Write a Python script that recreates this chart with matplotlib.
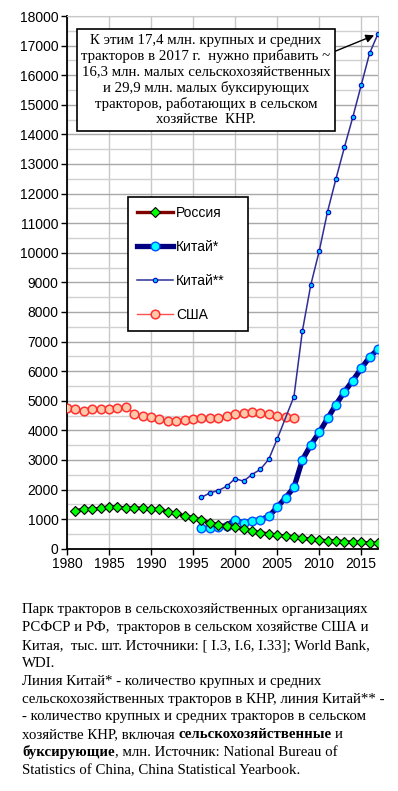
import matplotlib
matplotlib.use('Agg')
import matplotlib.pyplot as plt
from matplotlib.ticker import MultipleLocator
from matplotlib.lines import Line2D

SANS = 'Liberation Sans'
SERIF = 'Liberation Serif'

# --- data (thousand units) ---
RUS_YEARS = list(range(1981, 2018))
RUS = [1290, 1330, 1330, 1370, 1410, 1410, 1370, 1380, 1370, 1340, 1330, 1250, 1190, 1110,
       1050, 970, 880, 810, 775, 725, 675, 600, 545, 500, 450, 430, 405, 360, 315, 285, 275,
       270, 235, 225, 215, 190, 185]

USA_YEARS = list(range(1980, 2008))
USA = [4750, 4710, 4660, 4710, 4710, 4730, 4770, 4800, 4560, 4480, 4450, 4370, 4310, 4320,
       4360, 4370, 4400, 4400, 4430, 4490, 4550, 4580, 4630, 4580, 4540, 4500, 4450, 4430]

CN1_YEARS = list(range(1996, 2018))
CN1 = [690, 690, 720, 780, 975, 860, 940, 980, 1090, 1400, 1720, 2070, 3000, 3500, 3930,
       4400, 4870, 5300, 5680, 6090, 6470, 6740]

CN2_YEARS = list(range(1996, 2006)) + list(range(2007, 2018))
CN2 = [1735, 1885, 1965, 2110, 2370, 2280, 2505, 2680, 3020, 3700, 5140, 7350, 8910, 10050,
       11390, 12500, 13560, 14580, 15660, 16740, 17400]

LABELS = ['Россия', 'Китай*', 'Китай**', 'США']

NOTE = ('К этим 17,4 млн. крупных и средних\n'
        'тракторов в 2017 г.  нужно прибавить ~\n'
        '16,3 млн. малых сельскохозяйственных\n'
        'и 29,9 млн. малых буксирующих\n'
        'тракторов, работающих в сельском\n'
        'хозяйстве  КНР.')

# caption lines, each a list of (text, bold)
CAPTION = [
    [('Парк тракторов в сельскохозяйственных организациях', False)],
    [('РСФСР и РФ,  тракторов в сельском хозяйстве США и', False)],
    [('Китая,  тыс. шт. Источники: [ I.3, I.6, I.33]; World Bank,', False)],
    [('WDI.', False)],
    [('Линия Китай* - количество крупных и средних', False)],
    [('сельскохозяйственных тракторов в КНР, линия Китай** -', False)],
    [('- количество крупных и средних тракторов в сельском', False)],
    [('хозяйстве КНР, включая', False), ('сельскохозяйственные', True), ('и', False)],
    [('буксирующие', True), (', млн. Источник: National Bureau of', False)],
    [('Statistics of China, China Statistical Yearbook.', False)],
]

W, H = 398, 791
fig = plt.figure(figsize=(W / 100, H / 100), dpi=100)
ax = fig.add_axes([67 / W, 1 - 548.7 / H, 311 / W, 532.7 / H])

ax.set_xlim(1980, 2017)
ax.set_ylim(0, 18000)
ax.set_xticks(range(1980, 2016, 5))
ax.yaxis.set_major_locator(MultipleLocator(1000))
ax.yaxis.set_minor_locator(MultipleLocator(500))
ax.grid(True, which='major', axis='y', color='#a8a8a8', lw=1.0, zorder=0)
ax.grid(True, which='minor', axis='y', color='#d0d0d0', lw=1.0, zorder=0)
ax.grid(True, which='major', axis='x', color='#c8c8c8', lw=1.0, zorder=0)
ax.tick_params(axis='both', which='major', direction='out', length=4, width=1,
               labelsize=10, pad=2)
ax.tick_params(axis='y', which='minor', length=0)
for lab in ax.get_xticklabels() + ax.get_yticklabels():
    lab.set_fontfamily(SANS)
for s in ('top', 'right'):
    ax.spines[s].set_color('#c8c8c8')
for s in ('left', 'bottom'):
    ax.spines[s].set_linewidth(1.3)

ax.plot(USA_YEARS, USA, color='#ff5050', lw=1.0, marker='o', ms=6.2,
        mfc='#ffc8a8', mec='#ff3030', mew=1.1, zorder=3)
ax.plot(CN2_YEARS, CN2, color='#2e2e96', lw=1.1, marker='o', ms=3.2,
        mfc='#00c8ff', mec='#0000c0', mew=0.8, zorder=4)
ax.plot(CN1_YEARS, CN1, color='#000080', lw=3.8, marker='o', ms=6.2,
        mfc='#00ffff', mec='#0050ff', mew=1.0, zorder=5)
ax.plot(RUS_YEARS, RUS, color='#800000', lw=2.4, marker='D', ms=4.6,
        mfc='#00ff00', mec='black', mew=0.8, zorder=6)

handles = [
    Line2D([], [], color='#800000', lw=2.4, marker='D', ms=4.6, mfc='#00ff00', mec='black', mew=0.8),
    Line2D([], [], color='#000080', lw=3.8, marker='o', ms=6.2, mfc='#00ffff', mec='#0050ff', mew=1.0),
    Line2D([], [], color='#2e2e96', lw=1.1, marker='o', ms=3.2, mfc='#00c8ff', mec='#0000c0', mew=0.8),
    Line2D([], [], color='#ff5050', lw=1.0, marker='o', ms=6.2, mfc='#ffc8a8', mec='#ff3030', mew=1.1),
]
leg = fig.legend(handles, LABELS, loc='upper left',
                 bbox_to_anchor=(128 / W, 1 - 197 / H, 120 / W, 0.0), mode='expand',
                 prop={'family': SANS, 'size': 10}, frameon=True, fancybox=False,
                 edgecolor='black', framealpha=1, borderpad=0.62, labelspacing=1.45,
                 handlelength=2.6, handletextpad=0.25, borderaxespad=0)
leg.get_frame().set_linewidth(1.2)

ax.annotate(NOTE, xy=(2017, 17400), xycoords='data',
            xytext=(206 / W, 1 - 80 / H), textcoords='figure fraction',
            ha='center', va='center', family=SERIF, fontsize=10.7, linespacing=1.22,
            bbox=dict(boxstyle='square,pad=0.3', fc='white', ec='black', lw=1.2),
            arrowprops=dict(arrowstyle='-|>', color='black', lw=1.0, mutation_scale=12,
                            relpos=(1.0, 0.79), shrinkA=0, shrinkB=3),
            zorder=10)

# caption with mixed bold segments
renderer = fig.canvas.get_renderer()
fs = 10.7


def width_px(s, weight):
    t = fig.text(0, 0, s, family=SERIF, fontsize=fs, weight=weight)
    w = t.get_window_extent(renderer).width
    t.remove()
    return w


space = width_px('a a', 'normal') - width_px('aa', 'normal')
y0 = 610
for i, segs in enumerate(CAPTION):
    x = 22.0
    y = y0 + i * 17.8
    for j, (s, bold) in enumerate(segs):
        wgt = 'bold' if bold else 'normal'
        if j > 0 and not s.startswith(','):
            x += space
        fig.text(x / W, 1 - y / H, s, family=SERIF, fontsize=fs, weight=wgt,
                 ha='left', va='center')
        x += width_px(s, wgt)

fig.savefig('out.png', dpi=100)
